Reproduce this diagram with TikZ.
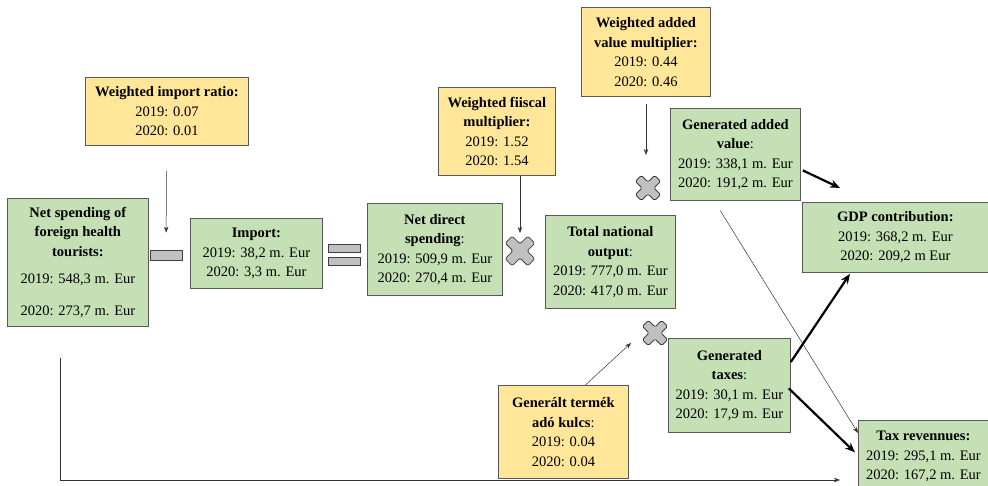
\documentclass[tikz,border=0pt]{standalone}
\usepackage{fontspec}
\setmainfont{Liberation Serif}
\usetikzlibrary{calc,positioning,arrows.meta}
\definecolor{boxgreen}{HTML}{C5E0B4}
\definecolor{boxyellow}{HTML}{FFE699}
\definecolor{signgray}{HTML}{C0C0C0}

\tikzset{
  base/.style={draw=black!65, line width=0.8pt, anchor=north west, align=center,
    inner sep=2pt, font=\fontsize{14.5}{19.5}\selectfont},
  result/.style={base, fill=boxgreen},
  factor/.style={base, fill=boxyellow},
  sign/.style={draw=black!75, fill=signgray, line width=0.8pt},
  thinarrow/.style={-{Stealth[length=6pt,width=4.5pt]}, line width=0.5pt, black!80},
  thickarrow/.style={-{Stealth[length=10pt,width=8pt]}, line width=2.2pt},
  cross/.pic={
    \draw[sign, rotate=45, rounded corners=1.5pt]
      (-5,-16) -- (5,-16) -- (5,-5) -- (16,-5) -- (16,5) -- (5,5) -- (5,16)
      -- (-5,16) -- (-5,5) -- (-16,5) -- (-16,-5) -- (-5,-5) -- cycle;
  }
}

\begin{document}
\begin{tikzpicture}[x=1pt,y=-1pt]
\useasboundingbox (0,0) rectangle (988,486);

% green boxes
\node[result, minimum width=141, minimum height=128] (spend) at (7,198)
  {\textbf{Net spending of}\\\textbf{foreign health}\\\textbf{tourists:}\\[8pt]2019: 548,3 m. Eur\\[12pt]2020: 273,7 m. Eur};
\node[result, minimum width=132, minimum height=70] (import) at (190,218)
  {\textbf{Import:}\\2019: 38,2 m. Eur\\2020: 3,3 m. Eur};
\node[result, minimum width=135, minimum height=92] (direct) at (367,203)
  {\textbf{Net direct}\\\textbf{spending}:\\2019: 509,9 m. Eur\\2020: 270,4 m. Eur};
\node[result, minimum width=130, minimum height=93] (output) at (545,215)
  {\textbf{Total national}\\\textbf{output}:\\2019: 777,0 m. Eur\\2020: 417,0 m. Eur};
\node[result, minimum width=130, minimum height=92] (added) at (670,108)
  {\textbf{Generated added}\\\textbf{value}:\\2019: 338,1 m. Eur\\2020: 191,2 m. Eur};
\node[result, minimum width=186, minimum height=70] (gdp) at (802,202)
  {\textbf{GDP contribution:}\\2019: 368,2 m. Eur\\2020: 209,2 m Eur};
\node[result, minimum width=122, minimum height=94] (taxes) at (668,338)
  {\textbf{Generated}\\\textbf{taxes}:\\2019: 30,1 m. Eur\\2020: 17,9 m. Eur};
\node[result, minimum width=130, minimum height=72] (taxrev) at (858,420)
  {\textbf{Tax revennues:}\\2019: 295,1 m. Eur\\2020: 167,2 m. Eur};

% yellow boxes
\node[factor, minimum width=163, minimum height=68] (ratio) at (85,77)
  {\textbf{Weighted import ratio:}\\2019: 0.07\\2020: 0.01};
\node[factor, minimum width=117, minimum height=88] (fiscal) at (438,87)
  {\textbf{Weighted fiiscal}\\\textbf{multiplier:}\\2019: 1.52\\2020: 1.54};
\node[factor, minimum width=129, minimum height=89] (avmult) at (581,7)
  {\textbf{Weighted added}\\\textbf{value multiplier:}\\2019: 0.44\\2020: 0.46};
\node[factor, minimum width=130, minimum height=93] (rate) at (498,385)
  {\textbf{Generált termék}\\\textbf{adó kulcs}:\\2019: 0.04\\2020: 0.04};

% operators
\node[sign, minimum width=32, minimum height=10, inner sep=0] (minus) at (166,255) {};
\node[sign, minimum width=32, minimum height=8, inner sep=0] (eqtop) at (344,248) {};
\node[sign, minimum width=32, minimum height=8, inner sep=0] (eqbot) at (344,261) {};
\coordinate (x1) at (520,251);
\coordinate (x2) at (648,188);
\coordinate (x3) at (655,333);
\pic at (x1) {cross};
\pic[scale=0.85] at (x2) {cross};
\pic[scale=0.85] at (x3) {cross};

% thin arrows
\draw[thinarrow, shorten <=25pt, shorten >=17pt] (ratio) -- (minus);
\draw[thinarrow] (fiscal.south -| x1) -- ($(x1)+(0,-18)$);
\draw[thinarrow] ($(avmult.south -| x2)+(-2,7)$) -- ($(x2)+(-2,-33)$);
\draw[thinarrow] ($(rate.north)+(22,0)$) -- ($(x3)+(-24,10)$);
\draw[thinarrow] ($(added.south)+(-15,10)$) -- ($(taxrev.north west)+(0,13)$);
\coordinate (revin) at (840,480);
\draw[thinarrow] ($(spend.south west)+(53,31)$) |- (revin);

% thick arrows
\draw[thickarrow] ($(added.east)+(2,16)$) -- ($(gdp.north west)+(38,-14)$);
\draw[thickarrow] ($(taxes.north east)+(0,24)$) -- ($(gdp.south west)+(48,1)$);
\draw[thickarrow] ($(taxes.east)+(-2,3)$) -- ($(taxrev.west)+(-3,-4)$);
\end{tikzpicture}
\end{document}
